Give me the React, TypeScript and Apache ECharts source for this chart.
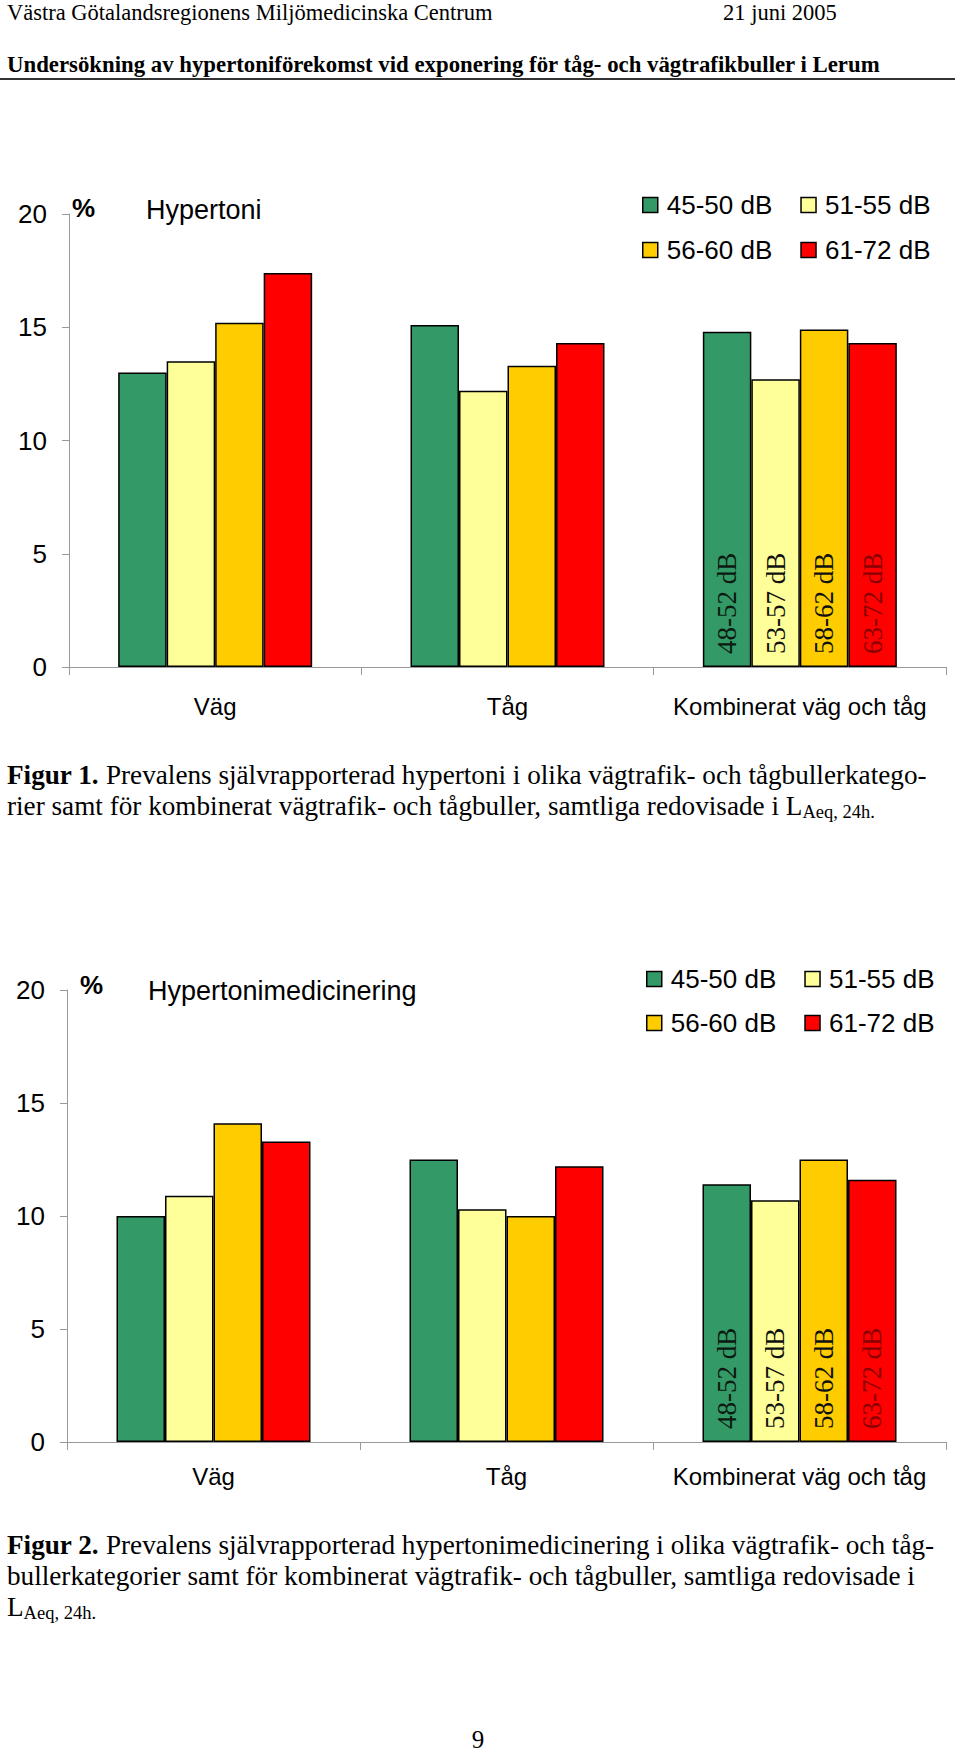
import React, { useEffect, useRef } from "react";
import * as echarts from "echarts";

const categories = ["Väg", "Tåg", "Kombinerat väg och tåg"];
const seriesNames = ["45-50 dB", "51-55 dB", "56-60 dB", "61-72 dB"];
const combinedLabels = ["48-52 dB", "53-57 dB", "58-62 dB", "63-72 dB"];
const barColors = ["#339966", "#FFFF99", "#FFCC00", "#FF0000"];
const combinedLabelColors = ["#0b1a10", "#111111", "#111111", "#8a0000"];

// Figur 1: Hypertoni (%)
const hypertoni_45_50 = [13.0, 15.1, 14.8];
const hypertoni_51_55 = [13.5, 12.2, 12.7];
const hypertoni_56_60 = [15.2, 13.3, 14.9];
const hypertoni_61_72 = [17.4, 14.3, 14.3];

// Figur 2: Hypertonimedicinering (%)
const medicin_45_50 = [10.0, 12.5, 11.4];
const medicin_51_55 = [10.9, 10.3, 10.7];
const medicin_56_60 = [14.1, 10.0, 12.5];
const medicin_61_72 = [13.3, 12.2, 11.6];

const yMin = 0;
const yMax = 20;
const yInterval = 5;

const SANS = '"Liberation Sans", Arial, sans-serif';
const SERIF = '"Liberation Serif", "Times New Roman", serif';
const CAP = 27.2;
const SUB = 18.5;

function buildSeries(values: number[][], gridIdx: number) {
  return values.map((vals, i) => ({
    name: seriesNames[i],
    type: "bar",
    xAxisIndex: gridIdx,
    yAxisIndex: gridIdx,
    barWidth: 48.5,
    barGap: "0%",
    itemStyle: { color: barColors[i], borderColor: "#000", borderWidth: 1.5 },
    data: vals.map((v, j) =>
      j === 2
        ? {
            value: v,
            label: {
              show: true,
              formatter: combinedLabels[i],
              position: "insideBottom",
              distance: 13,
              rotate: 90,
              align: "left",
              verticalAlign: "middle",
              fontFamily: SERIF,
              fontSize: 27,
              color: combinedLabelColors[i],
            },
          }
        : v
    ),
  }));
}

function legendRows(left: number, row1: number, row2: number) {
  const base = {
    orient: "horizontal",
    left,
    padding: 0,
    icon: "rect",
    itemWidth: 15,
    itemHeight: 15,
    itemGap: 28,
    selectedMode: false,
    textStyle: {
      fontFamily: SANS,
      fontSize: 26,
      color: "#000",
      lineHeight: 30,
      padding: [0, 0, 0, 4],
    },
  };
  return [
    {
      ...base,
      top: row1 - 15,
      data: [seriesNames[0], seriesNames[1]].map((n, k) => ({
        name: n,
        itemStyle: { color: barColors[k], borderColor: "#000", borderWidth: 1.5 },
      })),
    },
    {
      ...base,
      top: row2 - 15,
      data: [seriesNames[2], seriesNames[3]].map((n, k) => ({
        name: n,
        itemStyle: { color: barColors[k + 2], borderColor: "#000", borderWidth: 1.5 },
      })),
    },
  ];
}

function xAxisFor(gridIdx: number, margin: number) {
  return {
    type: "category",
    gridIndex: gridIdx,
    data: categories,
    axisLine: { show: true, lineStyle: { color: "#9a9a9a", width: 1 } },
    axisTick: { show: true, length: 8, lineStyle: { color: "#9a9a9a" } },
    axisLabel: { interval: 0, fontFamily: SANS, fontSize: 24, color: "#000", margin },
    splitLine: { show: false },
  };
}

function yAxisFor(gridIdx: number) {
  return {
    type: "value",
    gridIndex: gridIdx,
    min: yMin,
    max: yMax,
    interval: yInterval,
    axisLine: { show: true, lineStyle: { color: "#9a9a9a", width: 1 } },
    axisTick: { show: true, length: 7, lineStyle: { color: "#9a9a9a" } },
    axisLabel: { fontFamily: SANS, fontSize: 26, color: "#000", margin: 22 },
    splitLine: { show: false },
  };
}

function txt(x: number, y: number, text: string, opts: any = {}) {
  return {
    type: "text",
    x,
    y,
    silent: true,
    style: {
      text,
      fill: "#000",
      fontFamily: SERIF,
      fontSize: CAP,
      align: "left",
      verticalAlign: "middle",
      ...opts,
    },
  };
}

const captionRich = {
  b: { fontFamily: SERIF, fontSize: CAP, fontWeight: "bold", lineHeight: 31, verticalAlign: "middle" },
  n: { fontFamily: SERIF, fontSize: CAP, lineHeight: 31, verticalAlign: "middle" },
  s: { fontFamily: SERIF, fontSize: SUB, lineHeight: 19, verticalAlign: "bottom" },
};

export default function App() {
  const ref = useRef<HTMLDivElement>(null);
  useEffect(() => {
    if (!ref.current) return;
    const chart = echarts.init(ref.current, undefined, { renderer: "svg" });
    const option: any = {
      animation: false,
      backgroundColor: "#ffffff",
      grid: [
        { left: 69, right: 14, top: 214, height: 453, containLabel: false },
        { left: 67, right: 14, top: 990, height: 452, containLabel: false },
      ],
      xAxis: [xAxisFor(0, 27), xAxisFor(1, 22)],
      yAxis: [yAxisFor(0), yAxisFor(1)],
      legend: [...legendRows(642, 205, 250), ...legendRows(646, 979, 1023)],
      series: [
        ...buildSeries([hypertoni_45_50, hypertoni_51_55, hypertoni_56_60, hypertoni_61_72], 0),
        ...buildSeries([medicin_45_50, medicin_51_55, medicin_56_60, medicin_61_72], 1),
      ],
      graphic: [
        txt(7, 12, "Västra Götalandsregionens Miljömedicinska Centrum", { fontSize: 22.5 }),
        txt(723, 12, "21 juni 2005", { fontSize: 22.5 }),
        txt(7, 64, "Undersökning av hypertoniförekomst vid exponering för tåg- och vägtrafikbuller i Lerum", {
          fontSize: 22.8,
          fontWeight: "bold",
        }),
        { type: "line", silent: true, shape: { x1: 0, y1: 79, x2: 955, y2: 79 }, style: { stroke: "#333", lineWidth: 2 } },
        // Figure 1 titles
        txt(72, 208, "%", { fontFamily: SANS, fontSize: 26, fontWeight: "bold" }),
        txt(146, 210, "Hypertoni", { fontFamily: SANS, fontSize: 27 }),
        // Figure 1 caption
        txt(7, 775, "{b|Figur 1.}{n| Prevalens självrapporterad hypertoni i olika vägtrafik- och tågbullerkatego-}", {
          rich: captionRich,
        }),
        txt(7, 806, "{n|rier samt för kombinerat vägtrafik- och tågbuller, samtliga redovisade i L}{s|Aeq, 24h.}", {
          rich: captionRich,
        }),
        // Figure 2 titles
        txt(80, 985, "%", { fontFamily: SANS, fontSize: 26, fontWeight: "bold" }),
        txt(148, 991, "Hypertonimedicinering", { fontFamily: SANS, fontSize: 27 }),
        // Figure 2 caption
        txt(7, 1545, "{b|Figur 2.}{n| Prevalens självrapporterad hypertonimedicinering i olika vägtrafik- och tåg-}", {
          rich: captionRich,
        }),
        txt(7, 1576, "{n|bullerkategorier samt för kombinerat vägtrafik- och tågbuller, samtliga redovisade i}", {
          rich: captionRich,
        }),
        txt(7, 1607, "{n|L}{s|Aeq, 24h.}", { rich: captionRich }),
        // Page number
        txt(478, 1752, "9", { fontSize: 25, align: "center", verticalAlign: "bottom" }),
      ],
    };
    chart.setOption(option);
    return () => chart.dispose();
  }, []);
  return (
    <div
      ref={ref}
      style={{ position: "absolute", left: 0, top: 0, width: 960, height: 1753, background: "#fff" }}
    />
  );
}
